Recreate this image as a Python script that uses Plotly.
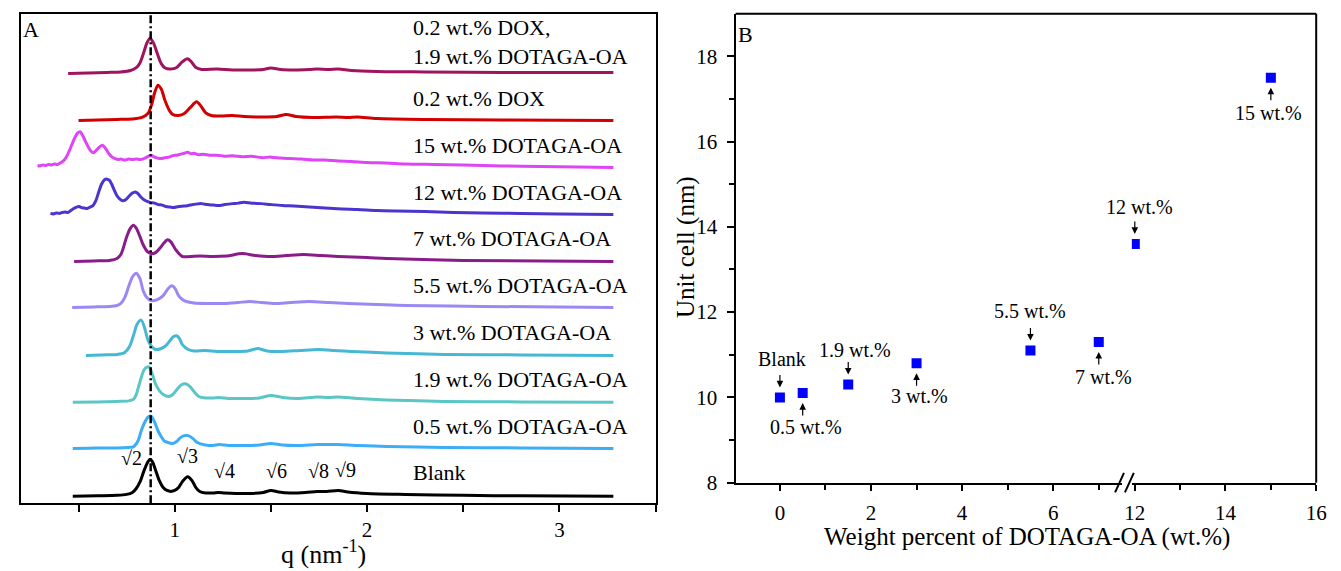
import plotly.graph_objects as go

W, H = 1341, 571
FONT = "Liberation Serif"

# ---------------- Panel A: SAXS profiles (intensity, a.u.) ----------------
q_blank = [0.47, 0.60, 0.70, 0.75, 0.78, 0.80, 0.82, 0.84, 0.86, 0.872, 0.885, 0.90, 0.92, 0.94,
           0.96, 0.98, 1.00, 1.02, 1.04, 1.067, 1.09, 1.11, 1.13, 1.16, 1.20, 1.226, 1.26, 1.32,
           1.40, 1.46, 1.50, 1.54, 1.60, 1.68, 1.74, 1.79, 1.85, 1.90, 2.00, 2.20, 2.50, 2.80, 3.28]
i_blank = [0, 0.5, 1, 2, 4, 8, 15, 26, 35, 38, 35, 27, 16, 9,
           6, 5, 6, 9, 15, 20, 16, 9, 5, 3.5, 3.5, 4, 3.5, 3,
           3, 4, 6, 4.5, 3.5, 4, 5, 5, 6, 4.5, 3, 2, 1, 0.5, 0]

q_05 = [0.47, 0.60, 0.70, 0.76, 0.785, 0.81, 0.826, 0.845, 0.862, 0.877, 0.895, 0.913, 0.93, 0.944,
        0.965, 0.99, 1.01, 1.03, 1.05, 1.07, 1.095, 1.117, 1.16, 1.20, 1.23, 1.28, 1.36, 1.44,
        1.50, 1.56, 1.64, 1.74, 1.80, 1.85, 1.95, 2.10, 2.40, 2.80, 3.28]
i_05 = [0, 0.5, 0.5, 1, 1.5, 8, 18, 27, 32, 33, 27, 18, 12, 8,
        6, 5, 7, 11, 13, 13, 10, 6, 3.5, 3, 4, 3, 3, 3.5,
        5, 3.5, 3, 4, 4, 4, 3, 2, 1, 0.5, 0]

q_19 = [0.47, 0.60, 0.70, 0.76, 0.785, 0.80, 0.815, 0.84, 0.855, 0.867, 0.88, 0.90, 0.92, 0.94,
        0.97, 0.99, 1.015, 1.035, 1.056, 1.08, 1.10, 1.125, 1.16, 1.20, 1.23, 1.28, 1.36, 1.44,
        1.50, 1.56, 1.64, 1.74, 1.80, 1.85, 1.95, 2.10, 2.40, 2.80, 3.28]
i_19 = [0, 0.5, 1, 1.5, 3, 8, 18, 33, 36, 36, 31, 19, 12, 8,
        6, 8, 14, 18, 19, 16, 11, 6, 4.5, 4.5, 5, 4, 4, 4.5,
        7, 5, 4, 5.5, 5, 5.5, 4, 2.5, 1, 0.5, 0]

q_3 = [0.538, 0.62, 0.70, 0.74, 0.765, 0.785, 0.805, 0.826, 0.845, 0.86, 0.88, 0.90, 0.93,
       0.954, 0.975, 0.993, 1.01, 1.025, 1.04, 1.07, 1.10, 1.16, 1.22, 1.30, 1.38, 1.43, 1.48,
       1.56, 1.65, 1.75, 1.82, 1.92, 2.10, 2.40, 2.80, 3.28]
i_3 = [0, 0.5, 1, 3, 9, 20, 32, 36, 27, 16, 9, 6, 7,
       10, 15, 19, 20, 17, 11, 6, 4.5, 5, 4, 4, 4.5, 7, 4.5,
       4, 5, 6, 5, 4, 2.5, 1, 0.5, 0]

q_55 = [0.467, 0.58, 0.66, 0.70, 0.72, 0.74, 0.76, 0.78, 0.80, 0.82, 0.836, 0.855, 0.877, 0.91,
        0.94, 0.965, 0.985, 1.003, 1.02, 1.04, 1.06, 1.10, 1.18, 1.26, 1.33, 1.39, 1.45, 1.52,
        1.60, 1.70, 1.80, 1.90, 2.05, 2.20, 2.60, 3.28]
i_55 = [0, 0.5, 1, 2, 4, 10, 21, 31, 35, 29, 17, 10, 7, 8,
        12, 19, 22, 19, 12, 8, 6, 4.5, 4, 4, 5, 6, 5, 4,
        5, 6, 5, 4, 3, 2, 1, 0]

q_7 = [0.477, 0.58, 0.66, 0.70, 0.72, 0.733, 0.75, 0.77, 0.785, 0.80, 0.82, 0.836, 0.858, 0.877,
       0.90, 0.925, 0.945, 0.962, 0.98, 1.005, 1.04, 1.08, 1.13, 1.20, 1.27, 1.35, 1.42, 1.50,
       1.58, 1.67, 1.76, 1.85, 2.00, 2.10, 2.50, 3.28]
i_7 = [0, 0.5, 1, 3, 7, 14, 25, 34, 37, 34, 25, 17, 10, 8,
       9, 14, 19, 22, 20, 12, 5, 5, 5.5, 5, 5.5, 8, 6, 5,
       6, 7, 6, 5, 4, 3, 1, 0]

q_12 = [0.354, 0.37, 0.385, 0.40, 0.415, 0.43, 0.445, 0.46, 0.475, 0.49, 0.503, 0.515, 0.53, 0.545,
        0.56, 0.575, 0.59, 0.605, 0.62, 0.635, 0.648, 0.66, 0.672, 0.685, 0.70, 0.715, 0.728, 0.745,
        0.76, 0.778, 0.795, 0.81, 0.825, 0.84, 0.86, 0.877, 0.895, 0.915, 0.935, 0.955, 0.975, 0.995,
        1.02, 1.05, 1.08, 1.11, 1.14, 1.17, 1.20, 1.23, 1.26, 1.30, 1.33, 1.36, 1.40, 1.45,
        1.50, 1.56, 1.62, 1.70, 1.78, 1.87, 1.95, 2.05, 2.15, 2.30, 2.45, 2.60, 2.80, 3.00, 3.28]
i_12 = [1, 0.5, 1.5, 1, 2, 2.5, 2, 4, 6, 7.5, 8, 7, 6.5, 6,
        7.5, 9, 14, 23, 31, 35.5, 36, 35, 31, 25, 19, 15.5, 14, 15,
        18, 21.5, 23, 21, 17.5, 15, 13, 12, 11.5, 10, 9.5, 8, 7.5, 7,
        8, 8.5, 9.5, 10.5, 11, 10, 9.5, 9, 10, 11, 11.5, 12.5, 11.5, 11,
        10, 9, 8.5, 7.5, 6.5, 5.5, 5, 4, 3.5, 3, 2, 1.5, 1, 0.5, 0]

q_15 = [0.287, 0.30, 0.315, 0.33, 0.345, 0.36, 0.375, 0.39, 0.405, 0.42, 0.435, 0.45, 0.465, 0.48,
        0.495, 0.508, 0.52, 0.535, 0.55, 0.565, 0.578, 0.59, 0.605, 0.62, 0.632, 0.645, 0.66, 0.675,
        0.69, 0.705, 0.72, 0.74, 0.76, 0.78, 0.80, 0.82, 0.84, 0.86, 0.877, 0.89, 0.91, 0.93,
        0.95, 0.97, 0.99, 1.01, 1.03, 1.05, 1.067, 1.085, 1.10, 1.12, 1.15, 1.18, 1.22, 1.26,
        1.30, 1.35, 1.40, 1.45, 1.50, 1.55, 1.60, 1.66, 1.72, 1.78, 1.85, 1.92, 2.00, 2.10,
        2.20, 2.35, 2.50, 2.70, 2.90, 3.10, 3.28]
i_15 = [2, 1.5, 2.5, 2, 3, 2.5, 3.5, 3, 4.5, 6.5, 10, 16, 23, 30,
        35, 36.5, 33, 27, 21, 16.5, 15, 17, 20, 22.5, 21.5, 18, 13.5, 10.5,
        9, 8, 8.5, 7.5, 8.5, 8, 8.5, 8, 9, 11, 12.5, 11, 9.5, 9,
        10, 10.5, 12, 12.5, 13.5, 14.5, 15.5, 14, 14.5, 13, 13.5, 12.5, 12.5, 11.5,
        12, 11, 11.5, 10, 10.5, 9.5, 9, 8.5, 7.5, 7.5, 6.5, 6, 5, 4.5,
        3.5, 3, 2.5, 1.5, 1, 0.5, 0]

q_dox = [0.50, 0.60, 0.70, 0.78, 0.83, 0.86, 0.88, 0.895, 0.913, 0.93, 0.95, 0.97, 0.99, 1.02,
         1.05, 1.08, 1.113, 1.135, 1.16, 1.19, 1.24, 1.30, 1.36, 1.45, 1.53, 1.58, 1.63, 1.72,
         1.84, 1.90, 1.95, 2.05, 2.30, 2.70, 3.28]
i_dox = [0, 0.5, 1, 1.5, 3, 7, 16, 28, 36, 32, 20, 11, 6, 5,
         7, 13, 19, 15, 8, 5, 4.5, 5, 4, 3.5, 4, 6, 4, 3,
         3.5, 3, 3.5, 2, 1, 0.5, 0]

q_dox19 = [0.446, 0.55, 0.65, 0.72, 0.77, 0.80, 0.82, 0.84, 0.855, 0.872, 0.89, 0.91, 0.93, 0.95,
           0.98, 1.01, 1.04, 1.067, 1.09, 1.11, 1.14, 1.22, 1.30, 1.40, 1.46, 1.50, 1.55, 1.62,
           1.70, 1.74, 1.80, 1.85, 1.92, 2.05, 2.30, 2.70, 3.28]
i_dox19 = [0, 0.5, 1, 1.5, 3, 6, 11, 22, 31, 36, 31, 20, 10, 5.5,
           4.5, 6, 12, 15, 11, 6, 4, 4.5, 3.5, 3.5, 4, 5.5, 4, 3.5,
           4, 4.5, 4, 4.5, 3, 2, 1.5, 1, 1]

sample_labels = ["Blank", "0.5 wt.% DOTAGA-OA", "1.9 wt.% DOTAGA-OA", "3 wt.% DOTAGA-OA",
                 "5.5 wt.% DOTAGA-OA", "7 wt.% DOTAGA-OA", "12 wt.% DOTAGA-OA",
                 "15 wt.% DOTAGA-OA", "0.2 wt.% DOX", "0.2 wt.% DOX,<br>1.9 wt.% DOTAGA-OA"]
q_sets = [q_blank, q_05, q_19, q_3, q_55, q_7, q_12, q_15, q_dox, q_dox19]
i_sets = [i_blank, i_05, i_19, i_3, i_55, i_7, i_12, i_15, i_dox, i_dox19]

# vertical stacking of the profiles and their colours
offsets = [7, 56, 103, 151, 200, 247, 295, 343, 391, 439]
label_y = [31, 78, 126, 174, 222, 270, 317, 365, 413, 471.5]
colors = ["#000000", "#3DADF7", "#5AC6C6", "#46B8D3", "#9C88F2", "#8A1C8A",
          "#4A36CF", "#DE45F6", "#D20000", "#A0135E"]

q_ref = 0.875  # first (sqrt2) reflection of the blank
peak_labels = ["√2", "√3", "√4", "√6", "√8", "√9"]
peak_q = [0.774, 1.067, 1.26, 1.528, 1.749, 1.887]
peak_label_h = [39, 41, 26, 26, 26, 27]

# ---------------- Panel B: unit cell vs DOTAGA-OA content ----------------
wt_pos = [0, 0.5, 1.5, 3, 5.5, 7, 12, 15]
unit_cell = [10.0, 10.1, 10.3, 10.8, 11.1, 11.3, 13.6, 17.5]
wt_text = ["Blank", "0.5 wt.%", "1.9 wt.%", "3 wt.%", "5.5 wt.%", "7 wt.%", "12 wt.%", "15 wt.%"]
# +1: label above (arrow pointing down), -1: label below (arrow pointing up)
wt_side = [1, -1, 1, -1, 1, -1, 1, -1]
# label offsets from the marker, in pixels
lab_dx = [2, 3, 7, 3, 0, 5, 5, -2]
lab_dy = [38, 34, 35, 33, 39, 35, 37, 35]


def px(x):
    return x / W


def py(y):
    return 1 - y / H


fig = go.Figure()

for q, inten, off, col in zip(q_sets, i_sets, offsets, colors):
    fig.add_trace(go.Scatter(
        x=q, y=[v + off for v in inten], mode="lines",
        line=dict(color=col, width=3, shape="spline", smoothing=0.8),
        xaxis="x", yaxis="y", showlegend=False, hoverinfo="skip"))

for lab, yl in zip(sample_labels, label_y):
    fig.add_annotation(x=2.226, y=yl, xref="x", yref="y", text=lab, showarrow=False,
                       xanchor="left", yanchor="middle", align="left",
                       font=dict(family=FONT, size=22, color="black"))

for lab, qq, hh in zip(peak_labels, peak_q, peak_label_h):
    fig.add_annotation(x=qq, y=offsets[0] + hh, xref="x", yref="y", text=lab, showarrow=False,
                       xanchor="center", yanchor="middle",
                       font=dict(family=FONT, size=20, color="black"))

fig.add_shape(type="line", x0=q_ref, x1=q_ref, y0=0, y1=1, xref="x", yref="y domain",
              line=dict(color="black", width=2.5, dash="8px,3px,2px,3px"))


def paper_text(x, y, text, size, angle=0):
    fig.add_annotation(x=px(x), y=py(y), xref="paper", yref="paper", text=text,
                       showarrow=False, xanchor="center", yanchor="middle", textangle=angle,
                       font=dict(family=FONT, size=size, color="black"))


paper_text(23, 30, "A", 22)
paper_text(320, 564, "q (nm<sup>-1</sup>)", 26)

# panel B markers
for xa, sel in (("x2", [0, 1, 2, 3, 4, 5]), ("x3", [6, 7])):
    fig.add_trace(go.Scatter(
        x=[wt_pos[i] for i in sel], y=[unit_cell[i] for i in sel], mode="markers",
        marker=dict(symbol="square", size=10, color="#0000FF", line=dict(width=0)),
        xaxis=xa, yaxis="y2", showlegend=False, hoverinfo="skip"))

for xv, yv, txt, side, dx, dy in zip(wt_pos, unit_cell, wt_text, wt_side, lab_dx, lab_dy):
    xa = "x2" if xv < 10 else "x3"
    fig.add_annotation(x=xv, y=yv, xref=xa, yref="y2", text="", showarrow=True,
                       ax=0, ay=-24 * side, standoff=10, arrowhead=2, arrowsize=1.1,
                       arrowwidth=1.2, arrowcolor="black")
    fig.add_annotation(x=xv, y=yv, xref=xa, yref="y2", text=txt, showarrow=False,
                       xanchor="center", yanchor="middle", yshift=dy * side, xshift=dx,
                       font=dict(family=FONT, size=20, color="black"))

paper_text(748, 35, "B", 22)
paper_text(1034, 549, "Weight percent of DOTAGA-OA (wt.%)", 25)
paper_text(687, 252, "Unit cell (nm)", 25, angle=-90)

# frame of panel B (top and right) and the axis break marks
fig.add_shape(type="line", xref="paper", yref="paper", x0=px(738), x1=px(1327), y0=py(14), y1=py(14),
              line=dict(color="black", width=2))
fig.add_shape(type="line", xref="paper", yref="paper", x0=px(1327), x1=px(1327), y0=py(14), y1=py(493),
              line=dict(color="black", width=2))
for xb in (1123, 1133):
    fig.add_shape(type="line", xref="paper", yref="paper", x0=px(xb), x1=px(xb + 9),
                  y0=py(503), y1=py(483), line=dict(color="black", width=2))

tick_font = dict(family=FONT, size=21, color="black")
fig.update_layout(
    width=W, height=H, margin=dict(l=0, r=0, t=0, b=0),
    paper_bgcolor="white", plot_bgcolor="white",
    xaxis=dict(domain=[px(13), px(657)], range=[0.2, 3.5], anchor="y",
               showline=True, linecolor="black", linewidth=2, mirror=True,
               ticks="outside", ticklen=7, tickwidth=1.5, tickcolor="black",
               tickvals=[1, 2, 3], ticktext=["1", "2", "3"], tickfont=tick_font,
               ticklabelstandoff=0,
               minor=dict(tickvals=[0.5, 1.5, 2.5, 3.5], ticks="outside", ticklen=7,
                          tickwidth=1.5, tickcolor="black"),
               showgrid=False, zeroline=False),
    yaxis=dict(domain=[py(514), py(14)], range=[0, 500], anchor="x",
               showline=True, linecolor="black", linewidth=2, mirror=True,
               showticklabels=False, ticks="", showgrid=False, zeroline=False),
    xaxis2=dict(domain=[px(738), px(1130)], range=[-0.974, 7.51], anchor="y2",
                showline=True, linecolor="black", linewidth=2,
                ticks="outside", ticklen=6, tickwidth=1.5, tickcolor="black",
                tickvals=[0, 2, 4, 6], tickfont=tick_font, ticklabelstandoff=4,
                minor=dict(tickvals=[-1, 1, 3, 5, 7], ticks="outside", ticklen=5,
                           tickwidth=1.5, tickcolor="black"),
                showgrid=False, zeroline=False),
    xaxis3=dict(domain=[px(1140), px(1327)], range=[11.935, 16.0], anchor="y2",
                showline=True, linecolor="black", linewidth=2,
                ticks="outside", ticklen=6, tickwidth=1.5, tickcolor="black",
                tickvals=[12, 14, 16], tickfont=tick_font, ticklabelstandoff=4,
                minor=dict(tickvals=[13, 15], ticks="outside", ticklen=5,
                           tickwidth=1.5, tickcolor="black"),
                showgrid=False, zeroline=False),
    yaxis2=dict(domain=[py(493), py(14)], range=[8, 19], anchor="x2",
                showline=True, linecolor="black", linewidth=2,
                ticks="outside", ticklen=7, tickwidth=1.5, tickcolor="black",
                tickvals=[8, 10, 12, 14, 16, 18], tickfont=tick_font, ticklabelstandoff=5,
                minor=dict(tickvals=[9, 11, 13, 15, 17], ticks="outside", ticklen=5,
                           tickwidth=1.5, tickcolor="black"),
                showgrid=False, zeroline=False),
)

fig.write_html("out.html")
